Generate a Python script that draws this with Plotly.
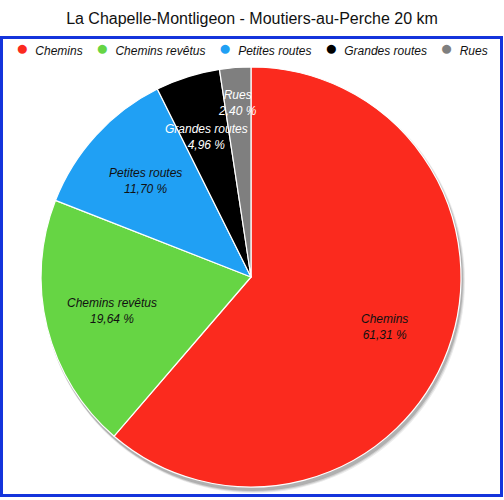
import math
import plotly.graph_objects as go

# data
labels = ["Chemins", "Chemins revêtus", "Petites routes", "Grandes routes", "Rues"]
values = [61.31, 19.64, 11.70, 4.96, 2.40]
colors = ["#fb2a1e", "#66d544", "#20a0f4", "#000000", "#7f7f7f"]
title = "La Chapelle-Montligeon - Moutiers-au-Perche 20 km"

text_colors = ["#111111", "#111111", "#111111", "#ffffff", "#ffffff"]
label_r = [0.68, 0.68, 0.68, 0.70, 0.83]   # label distance, as share of radius

def fr(v):
    return f"{v:.2f}".replace(".", ",") + " %"

W, H = 504, 500
cx, cy, r = 251, 277, 210          # pie box in pixels, from top-left
dom_x = [(cx - r) / W, (cx + r) / W]
dom_y = [(H - cy - r) / H, (H - cy + r) / H]

fig = go.Figure()
fig.add_trace(go.Pie(
    labels=labels, values=values,
    textinfo="none", sort=False, direction="clockwise", rotation=0,
    marker=dict(colors=colors, line=dict(color="white", width=1.2)),
    domain=dict(x=dom_x, y=dom_y),
    hovertemplate="%{label}: %{percent}<extra></extra>", showlegend=False,
))

# slice labels, placed at each slice's middle angle
total = sum(values)
acc = 0
for lab, v, tc, lr in zip(labels, values, text_colors, label_r):
    ang = (acc + v / 2) / total * 2 * math.pi
    acc += v
    px = cx + lr * r * math.sin(ang)
    py = cy - lr * r * math.cos(ang)
    fig.add_annotation(x=px / W, y=(H - py) / H, xref="paper", yref="paper",
                       xanchor="center", yanchor="middle",
                       text=f"<i>{lab}<br>{fr(v)}</i>", showarrow=False,
                       font=dict(size=12, color=tc), align="center")

# legend line with round markers
parts = []
for lab, col in zip(labels, colors):
    parts.append(f"<span style='color:{col};font-size:21px'>●</span>  <i>{lab}</i>")
fig.add_annotation(x=0.5, y=1 - 48 / H, xref="paper", yref="paper",
                   text="    ".join(parts), showarrow=False,
                   font=dict(size=12, color="#111111"), xanchor="center", yanchor="middle")

# soft shadow under the pie
for i, op in enumerate([0.10, 0.15, 0.22]):
    d = 3 - i
    fig.add_shape(type="circle", xref="paper", yref="paper",
                  x0=(cx - r + 1) / W, x1=(cx + r + 1 + d) / W,
                  y0=(H - cy - r - 3 - d) / H, y1=(H - cy + r - 2) / H,
                  fillcolor=f"rgba(60,60,60,{op})", line_width=0, layer="below")

# blue frame
fig.add_shape(type="rect", xref="paper", yref="paper",
              x0=1.5 / W, x1=(W - 2.5) / W, y0=4.5 / H, y1=(H - 37.5) / H,
              line=dict(color="#1434dc", width=3), fillcolor="rgba(0,0,0,0)")

fig.update_layout(
    width=W, height=H,
    margin=dict(l=0, r=0, t=0, b=0),
    paper_bgcolor="white", plot_bgcolor="white",
    font=dict(family="Liberation Sans, Arial", color="#111111"),
    title=dict(text=title, x=0.5, xanchor="center", y=1 - 18 / H, yanchor="middle",
               font=dict(size=16, color="#111111")),
    showlegend=False,
)

fig.write_html("out.html", config={"displayModeBar": False},
               post_script="document.body.style.margin='0';document.body.style.overflow='hidden';")
